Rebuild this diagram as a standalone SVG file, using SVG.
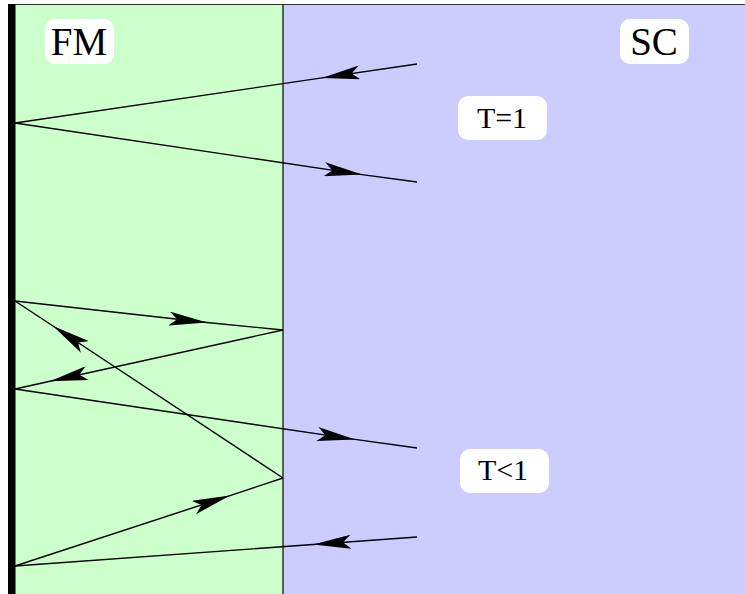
<svg xmlns="http://www.w3.org/2000/svg" width="745" height="594" viewBox="0 0 745 594">
<style>
.ray{fill:none;stroke:#000;stroke-width:1.4;marker-mid:url(#ah)}
.lbl{fill:#fff}
.t{font-family:"Liberation Serif","Times New Roman",serif;fill:#000;text-anchor:middle}
</style>
<defs>
<marker id="ah" markerUnits="userSpaceOnUse" viewBox="0 0 38 14" refX="38" refY="7" markerWidth="38" markerHeight="14" orient="auto">
<path d="M38,7 L0,0 L8,7 L0,14 Z" fill="#000"/>
</marker>
</defs>
<g id="regions">
<rect x="15" y="4" width="268" height="590" fill="#ccffcc"/>
<rect x="283" y="4" width="462" height="590" fill="#ccccff"/>
<line x1="283" y1="4" x2="283" y2="594" stroke="#000" stroke-width="1.2"/>
<line x1="8" y1="4.5" x2="745" y2="4.5" stroke="#333" stroke-width="1.2"/>
<rect x="8" y="4" width="7.5" height="590" fill="#000"/>
</g>
<g id="connectors">
<path class="ray" d="M417,64 L322,77.9 L15,123"/>
<path class="ray" d="M15,123 L362,174.6 L417,182"/>
<path class="ray" d="M15,301 L207,322.5 L283,330"/>
<path class="ray" d="M283,330 L50,381.3 L15,389"/>
<path class="ray" d="M15,389 L355,439.4 L417,448"/>
<path class="ray" d="M283,478 L53,326 L15,301"/>
<path class="ray" d="M15,566 L230,495.6 L283,478"/>
<path class="ray" d="M417,537 L313,544.5 L15,566"/>
</g>
<g id="FM">
<rect class="lbl" x="45" y="19" width="69" height="45" rx="10"/>
<text class="t" x="79" y="55" font-size="39">FM</text>
</g>
<g id="SC">
<rect class="lbl" x="620" y="19" width="69" height="45" rx="10"/>
<text class="t" x="654" y="55" font-size="39">SC</text>
</g>
<g id="T1">
<rect class="lbl" x="458" y="96" width="89" height="44" rx="10"/>
<text class="t" x="502" y="128" font-size="30">T=1</text>
</g>
<g id="Tlt1">
<rect class="lbl" x="460" y="449" width="89" height="44" rx="10"/>
<text class="t" x="503" y="480" font-size="30">T&lt;1</text>
</g>
</svg>
